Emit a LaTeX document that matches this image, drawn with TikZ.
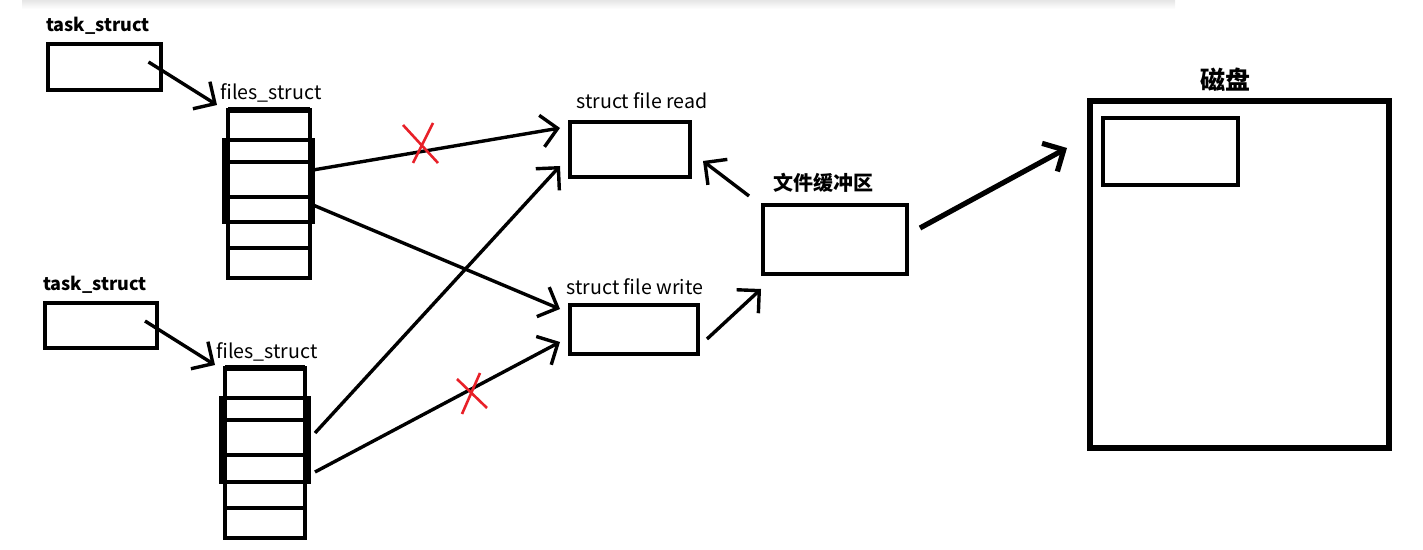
\documentclass[tikz,border=0pt]{standalone}
\usepackage{fontspec}
\setmainfont{Noto Sans CJK SC}
\usetikzlibrary{arrows.meta,calc}
\definecolor{crossred}{RGB}{232,32,40}

\begin{document}
\begin{tikzpicture}[
  x=0.5pt,y=-0.5pt,
  every node/.style={inner sep=0pt,outer sep=0pt},
  box/.style={draw,line width=2pt},
  cell/.style={draw,line width=1.8pt},
  lbl/.style={font=\fontsize{9.8}{12}\selectfont},
  bold lbl/.style={font=\fontsize{9}{11}\selectfont\bfseries},
  arr/.style={line width=1.7pt,-{Straight Barb[length=8pt,width=16pt]}},
  cross/.style={draw=crossred,line width=1.3pt}
]
  \useasboundingbox (0,0) rectangle (1423,550);
  \shade[top color=black!10,bottom color=white] (22,0) rectangle (1175,9);

  % processes
  \node[bold lbl] (task1lbl) at (98,26) {task\_struct};
  \node[box,minimum width=56.5pt,minimum height=23pt] (task1) at (104.5,67) {};
  \node[bold lbl] (task2lbl) at (95,285) {task\_struct};
  \node[box,minimum width=56pt,minimum height=22.5pt] (task2) at (101,325.5) {};

  % fd tables
  \node[lbl] (fsAlbl) at (271,93) {files\_struct};
  \foreach \i/\t/\b in {1/110/140,2/140/162,3/162/197,4/197/222,5/222/248,6/248/278}
    \node[cell,minimum width=41pt,minimum height={(\b-\t)*0.5pt}] (fsA\i) at (269,{(\t+\b)/2}) {};
  \draw[line width=2.2pt] (224,140) rectangle (313,222);
  \draw[line width=3.2pt] (fsA1.north west) -- (fsA1.north east);

  \node[lbl] (fsBlbl) at (267,352) {files\_struct};
  \foreach \i/\t/\b in {1/368/398,2/398/420,3/420/455,4/455/482,5/482/508,6/508/538}
    \node[cell,minimum width=40pt,minimum height={(\b-\t)*0.5pt}] (fsB\i) at (265,{(\t+\b)/2}) {};
  \draw[line width=2.2pt] (221,398) rectangle (309,482);
  \draw[line width=3.2pt] (fsB1.north west) -- (fsB1.north east);

  % open files
  \node[lbl] (readlbl) at (642,101) {struct file read};
  \node[box,minimum width=60pt,minimum height=27.5pt] (read) at (630,149.5) {};
  \node[lbl] (writelbl) at (635,287) {struct file write};
  \node[box,minimum width=64pt,minimum height=24.5pt] (write) at (634,329.5) {};

  \node[bold lbl,font=\fontsize{10}{12}\selectfont\bfseries] (buflbl) at (823,183) {文件缓冲区};
  \node[box,minimum width=72pt,minimum height=34.5pt] (buffer) at (835,239.5) {};

  \node[font=\fontsize{12.5}{14}\selectfont\bfseries] (disklbl) at (1225,80) {磁盘};
  \node[box,line width=2.6pt,minimum width=149.5pt,minimum height=173.5pt] (disk) at (1239.5,274.5) {};
  \node[box,line width=2.4pt,minimum width=67.5pt,minimum height=33.5pt] (diskblk) at (1170.5,151.5) {};

  % pointers
  \draw[arr] ($(task1.center)+(44,-5)$) -- ($(fsA1.north west)+(-11,-5)$);
  \draw[arr] ($(task2.center)+(44,-4.5)$) -- ($(fsB1.north west)+(-10,-3)$);
  \draw[arr] ($(fsA3.east)+(3,-9.5)$) -- ($(read.west)+(-10,-21.5)$);
  \draw[arr] ($(fsA4.east)+(3,-4.5)$) -- ($(write.west)+(-10,-20.5)$);
  \draw[arr] ($(fsB3.east)+(10,-4.5)$) -- ($(read.west)+(-10,16.5)$);
  \draw[arr] ($(fsB4.east)+(10,3.5)$) -- ($(write.west)+(-10,12.5)$);
  \draw[arr] ($(buffer.north west)+(-14,-9)$) -- ($(read.east)+(13,11.5)$);
  \draw[arr] ($(write.east)+(9,9.5)$) -- ($(buffer.south west)+(-2,15)$);
  \draw[arr,line width=2.6pt] ($(buffer.east)+(13,-11.5)$) -- ($(disk.west)+(-23,-126.5)$);

  % crossed out
  \draw[cross] (403,125) -- (438,163) (433,123) -- (413,163);
  \draw[cross] (457,379) -- (487,408) (480,373) -- (462,414);
\end{tikzpicture}
\end{document}
